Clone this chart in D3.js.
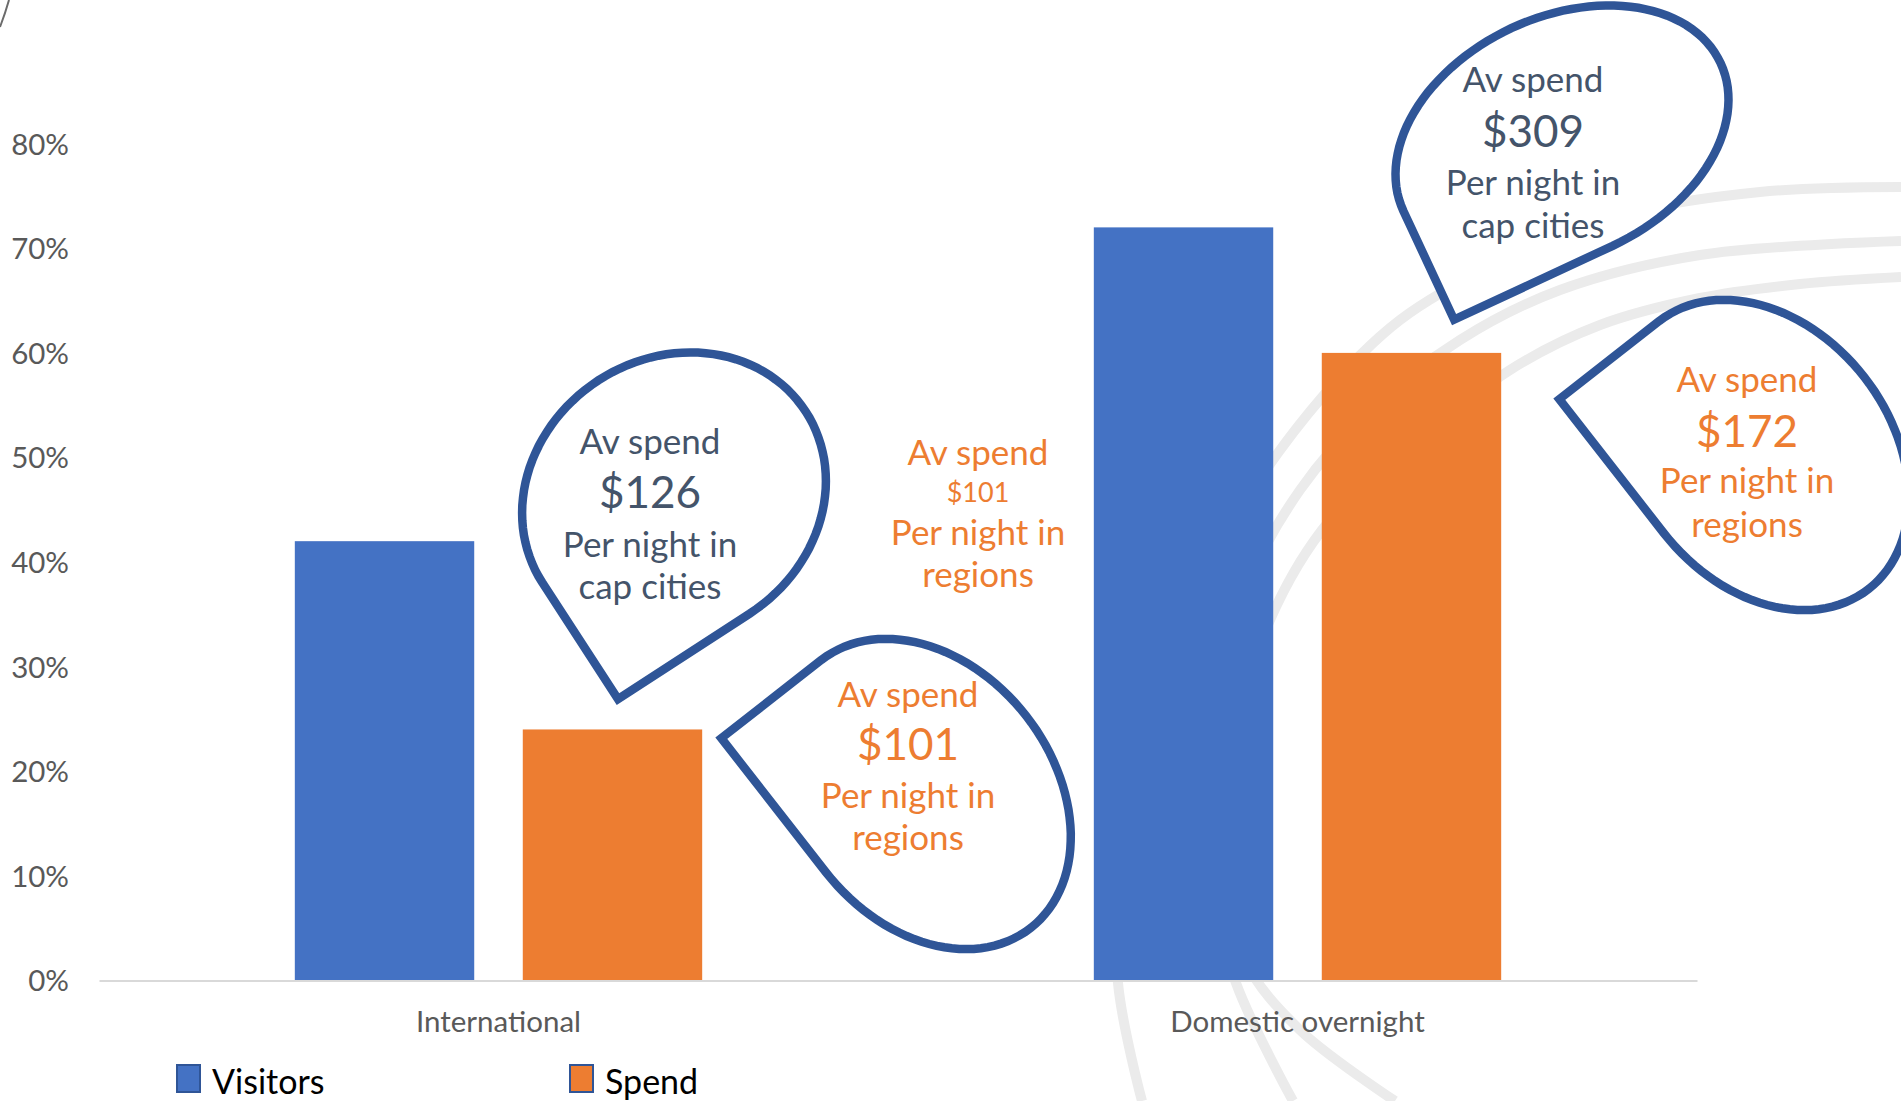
<!DOCTYPE html>
<html>
<head>
<meta charset="utf-8">
<script src="https://cdn.jsdelivr.net/npm/d3@7"></script>
<style>
  html, body { margin: 0; padding: 0; background: #ffffff; overflow: hidden; }
  svg { display: block; }
  text { font-family: Lato, "Open Sans", sans-serif; }
</style>
</head>
<body>
<svg id="chart" width="1901" height="1101"></svg>
<script>
// ---- data ----
const categories = ["International", "Domestic overnight"];
const seriesNames = ["Visitors", "Spend"];
const visitors = [0.42, 0.72];
const spend = [0.24, 0.60];
const yTicks = [0, 0.1, 0.2, 0.3, 0.4, 0.5, 0.6, 0.7, 0.8];
// average spend per night shown in the callouts (International, then Domestic)
const capCitySpend = [126, 309];
const regionSpend = [101, 172];
const regionNoteSpend = 101;

// ---- styles ----
const BLUE = "#4472C4", ORANGE = "#ED7D31", OUTLINE = "#2F5597";
const SLATE = "#44546A", GREY_TEXT = "#595959";

const svg = d3.select("#chart");

// soft background swooshes
const swooshes = [
  [[1142,1101],[1118,983],[1120,820],[1165,660],[1240,510],[1323,396],[1400,320],[1500,262],[1620,215],[1760,192],[1901,187]],
  [[1293,1101],[1236,983],[1205,860],[1210,720],[1245,590],[1300,490],[1370,410],[1460,340],[1560,290],[1700,255],[1901,241]],
  [[1395,1101],[1300,1030],[1245,960],[1225,860],[1235,740],[1270,620],[1330,520],[1420,440],[1510,370],[1600,325],[1700,298],[1800,284],[1901,277]]
];
const swooshLine = d3.line().curve(d3.curveCatmullRom.alpha(0.5));
svg.append("g").selectAll("path").data(swooshes).join("path")
  .attr("d", swooshLine)
  .attr("fill", "none").attr("stroke", "#EBEBEB").attr("stroke-width", 10);

// small stray stroke in the top-left corner
svg.append("path").attr("d", "M0,27 Q5,14 9,0")
  .attr("fill", "none").attr("stroke", "#6b6b6b").attr("stroke-width", 2);

// ---- scales ----
const x0 = d3.scaleBand().domain(categories).range([99, 1697]).paddingInner(0).paddingOuter(0);
const x1 = d3.scaleBand().domain(seriesNames).range([0, x0.bandwidth()])
  .paddingInner(0.213).paddingOuter(0.859);
const y = d3.scaleLinear().domain([0, 0.8]).range([980.5, 143.7]);
const color = d3.scaleOrdinal().domain(seriesNames).range([BLUE, ORANGE]);

// ---- y axis labels ----
const yAxis = d3.axisLeft(y).tickValues(yTicks).tickFormat(d3.format(".0%")).tickSize(0).tickPadding(0);
const yg = svg.append("g").attr("transform", "translate(69,0)").call(yAxis);
yg.select(".domain").remove();
yg.selectAll("text").attr("fill", GREY_TEXT).attr("font-size", 29.5)
  .style("font-family", "Lato, sans-serif").attr("dy", "0.35em");

// ---- bars ----
const rows = categories.map((c, i) => ({ category: c, values: [
  { series: "Visitors", value: visitors[i] },
  { series: "Spend", value: spend[i] }
]}));
svg.append("g").selectAll("g").data(rows).join("g")
  .attr("transform", d => `translate(${x0(d.category)},0)`)
  .selectAll("rect").data(d => d.values).join("rect")
  .attr("x", d => x1(d.series))
  .attr("width", x1.bandwidth())
  .attr("y", d => y(d.value))
  .attr("height", d => y(0) - y(d.value))
  .attr("fill", d => color(d.series));

// ---- category axis ----
const xAxis = d3.axisBottom(x0).tickSize(0).tickPadding(0);
const xg = svg.append("g").attr("transform", `translate(0,${y(0)})`).call(xAxis);
xg.select(".domain").attr("stroke", "#D9D9D9").attr("stroke-width", 2);
xg.selectAll("text").attr("fill", GREY_TEXT).attr("font-size", 29.5)
  .style("font-family", "Lato, sans-serif").attr("y", 51).attr("dy", 0);

// ---- teardrop callouts ----
function teardrop(c) {
  const pts = [];
  for (let t = 90; t <= 360; t += 3) {
    const r = t * Math.PI / 180;
    pts.push([c.a * Math.cos(r), c.b * Math.sin(r)]);
  }
  pts.push([c.a, c.b]);
  const th = c.rot * Math.PI / 180, ct = Math.cos(th), st = Math.sin(th);
  const p = pts.map(([u, v]) => [c.cx + u * ct - v * st, c.cy + u * st + v * ct]);
  return "M" + p.map(q => q[0].toFixed(1) + "," + q[1].toFixed(1)).join("L") + "Z";
}

const callouts = [
  { cx: 674, cy: 497, a: 139, b: 157, rot: 57, tx: 650, base: [454, 508, 557, 599],
    fill: SLATE, lines: ["Av spend", "$" + capCitySpend[0], "Per night in", "cap cities"] },
  { cx: 926, cy: 794, a: 127, b: 170, rot: 142, tx: 908, base: [707, 760, 808, 850],
    fill: ORANGE, lines: ["Av spend", "$" + regionSpend[0], "Per night in", "regions"] },
  { cx: 1562, cy: 137, a: 120, b: 175, rot: 65, tx: 1533, base: [92, 147, 195, 238],
    fill: SLATE, lines: ["Av spend", "$" + capCitySpend[1], "Per night in", "cap cities"] },
  { cx: 1764, cy: 455, a: 127, b: 170, rot: 142, tx: 1747, base: [392, 447, 493, 537],
    fill: ORANGE, lines: ["Av spend", "$" + regionSpend[1], "Per night in", "regions"] }
];

const cg = svg.append("g");
callouts.forEach(c => {
  cg.append("path").attr("d", teardrop(c))
    .attr("fill", "#ffffff").attr("stroke", OUTLINE).attr("stroke-width", 8.5)
    .attr("stroke-linejoin", "miter");
  c.lines.forEach((ln, i) => {
    cg.append("text").attr("x", c.tx).attr("y", c.base[i])
      .attr("text-anchor", "middle").attr("fill", c.fill)
      .attr("font-size", i === 1 ? 44 : 35).text(ln);
  });
});

// free-standing regional note
const note = { tx: 978, base: [465, 502, 545, 587],
  lines: ["Av spend", "$" + regionNoteSpend, "Per night in", "regions"] };
note.lines.forEach((ln, i) => {
  svg.append("text").attr("x", note.tx).attr("y", note.base[i])
    .attr("text-anchor", "middle").attr("fill", ORANGE)
    .attr("font-size", i === 1 ? 27 : 35).text(ln);
});

// ---- legend ----
const legendX = [177, 570];
const lg = svg.append("g").selectAll("g").data(seriesNames).join("g")
  .attr("transform", (d, i) => `translate(${legendX[i]},1065)`);
lg.append("rect").attr("width", 23).attr("height", 27)
  .attr("fill", d => color(d)).attr("stroke", OUTLINE).attr("stroke-width", 2);
lg.append("text").attr("x", 35).attr("y", 29).attr("fill", "#000000")
  .attr("font-size", 34).text(d => d);
</script>
</body>
</html>
